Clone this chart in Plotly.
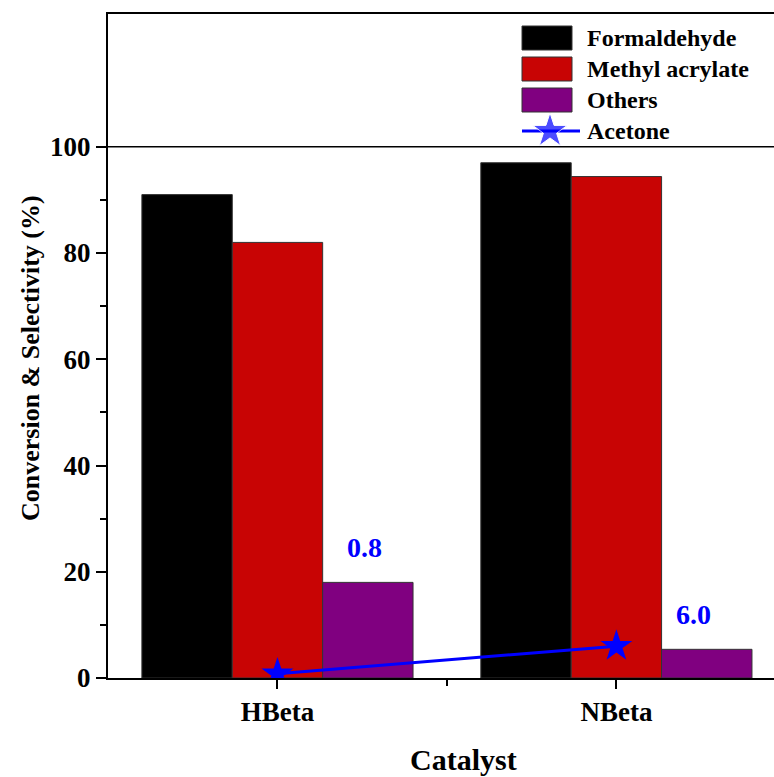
import plotly.graph_objects as go

categories = ["HBeta", "NBeta"]
formaldehyde = [91.0, 97.0]
methyl_acrylate = [82.0, 94.4]
others = [18.0, 5.4]
acetone = [0.8, 6.0]
y_ticks = [0, 20, 40, 60, 80, 100]
y_minor = [10, 30, 50, 70, 90]

W, H = 774, 777
L, R, T, B = 108, 0, 14, 99
PW, PH = W - L - R, H - T - B

def px(x):
    return (x - L) / PW

def py(y):
    return (H - B - y) / PH

FONT = "Liberation Serif"
xs = list(range(len(categories)))
bw = 0.8 / 3

fig = go.Figure()
colors = ["#000000", "#C80404", "#800080"]
series = [("Formaldehyde", formaldehyde), ("Methyl acrylate", methyl_acrylate), ("Others", others)]
for (name, vals), c in zip(series, colors):
    fig.add_trace(go.Bar(x=xs, y=vals, name=name, marker=dict(color=c, line=dict(color="#333333", width=1)),
                         width=bw, showlegend=False))

fig.add_trace(go.Scatter(x=xs, y=acetone, mode="lines+markers", name="Acetone",
                         line=dict(color="#0000FF", width=3),
                         marker=dict(symbol="star", size=24, color="#0000FF"), showlegend=False))

# value labels above "Others" bars
label_shift = [-3, -13]
for i, v in enumerate(acetone):
    fig.add_annotation(x=xs[i] + bw, y=others[i], text=f"{v:.1f}", showarrow=False,
                       yanchor="bottom", yshift=17, xshift=label_shift[i],
                       font=dict(family=FONT, size=28, color="#0000FF", weight="bold"))

# manual legend
leg_rows = [(26, 50), (57, 81), (88, 112)]
for (name, _), c, (y0, y1) in zip(series, colors, leg_rows):
    fig.add_shape(type="rect", xref="paper", yref="paper", x0=px(522), x1=px(572), y0=py(y1), y1=py(y0),
                  fillcolor=c, line=dict(color="#333333", width=1))
    fig.add_annotation(xref="paper", yref="paper", x=px(585), y=py((y0 + y1) / 2), text=name,
                       showarrow=False, xanchor="left", yanchor="middle",
                       font=dict(family=FONT, size=24, color="black", weight="bold"))
fig.add_trace(go.Scatter(x=[px(522), px(550), px(580)], y=[py(131)] * 3, xaxis="x2", yaxis="y2",
                         mode="lines+markers", line=dict(color="#0000FF", width=3),
                         marker=dict(symbol="star", size=[0, 26, 0], color="#0000FF"),
                         showlegend=False, hoverinfo="skip"))
fig.add_annotation(xref="paper", yref="paper", x=px(585), y=py(131), text="Acetone",
                   showarrow=False, xanchor="left", yanchor="middle",
                   font=dict(family=FONT, size=24, color="black", weight="bold"))

# horizontal line at 100
fig.add_shape(type="line", xref="paper", yref="y", x0=0, x1=1, y0=100, y1=100,
              line=dict(color="black", width=1.5))

# axis titles
fig.add_annotation(xref="paper", yref="paper", x=px(463), y=py(759), text="Catalyst", showarrow=False,
                   xanchor="center", yanchor="middle",
                   font=dict(family=FONT, size=30, color="black", weight="bold"))
fig.add_annotation(xref="paper", yref="paper", x=px(30), y=py(358), text="Conversion & Selectivity (%)",
                   showarrow=False, textangle=-90, xanchor="center", yanchor="middle",
                   font=dict(family=FONT, size=26, color="black", weight="bold"))

fig.update_layout(
    width=W, height=H, margin=dict(l=L, r=R, t=T, b=B),
    plot_bgcolor="white", paper_bgcolor="white", barmode="group", bargap=0.2, bargroupgap=0,
    xaxis=dict(range=[-0.5, 1.465], tickvals=xs, ticktext=categories, showline=True, mirror=True,
               linecolor="black", linewidth=2, ticks="outside", ticklen=9, tickwidth=2, tickcolor="black",
               showgrid=False, zeroline=False,
               minor=dict(tickvals=[0.5], ticks="outside", ticklen=6, tickwidth=2, tickcolor="black"),
               tickfont=dict(family=FONT, size=27, color="black", weight="bold")),
    yaxis=dict(range=[0, 125], tickvals=y_ticks, showline=True, linecolor="black", linewidth=2,
               ticks="outside", ticklen=10, tickwidth=2, tickcolor="black", showgrid=False, zeroline=False,
               minor=dict(tickvals=y_minor, ticks="outside", ticklen=6, tickwidth=2, tickcolor="black"),
               tickfont=dict(family=FONT, size=27, color="black", weight="bold")),
    xaxis2=dict(range=[0, 1], overlaying="x", visible=False),
    yaxis2=dict(range=[0, 1], overlaying="y", visible=False),
)

fig.write_html("out.html")
